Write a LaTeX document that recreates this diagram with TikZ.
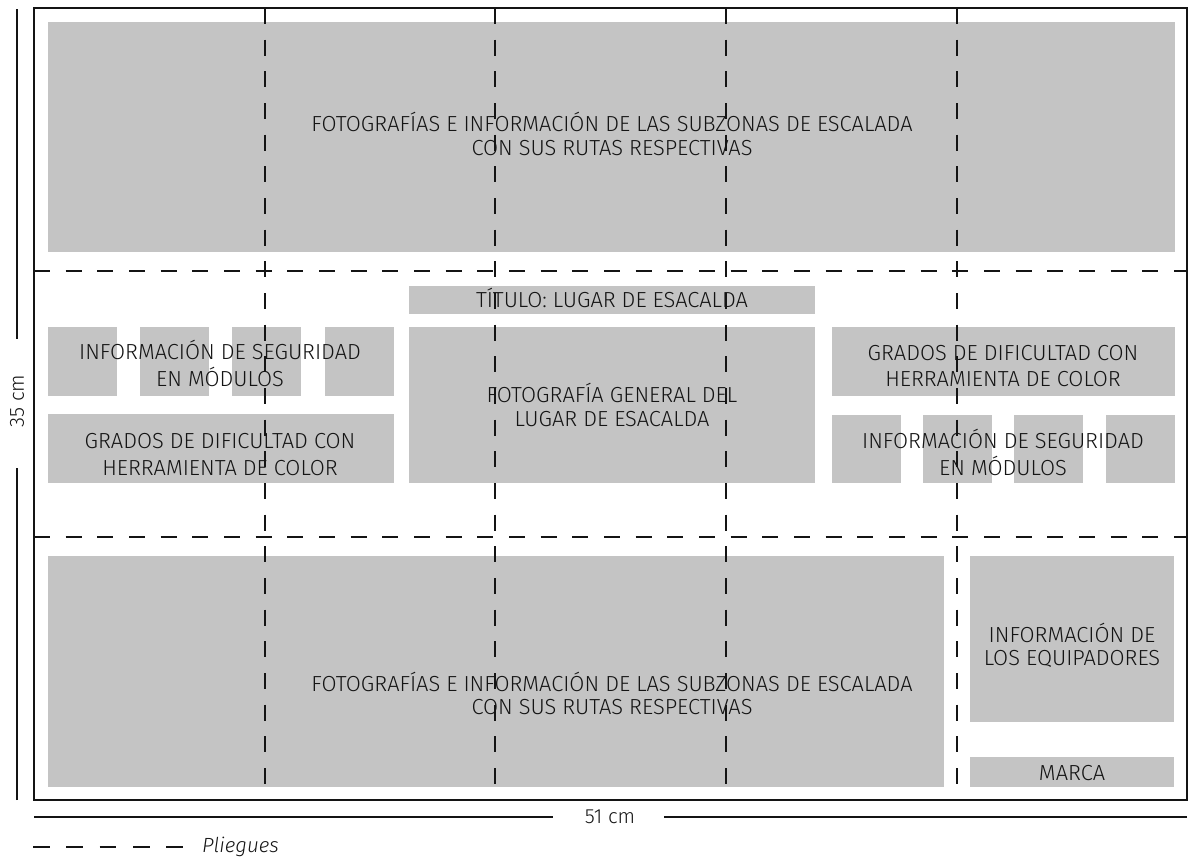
\documentclass[tikz,border=0pt]{standalone}
\usepackage{fontspec}
\setmainfont{Fira Sans Light}
\usepackage{xcolor}
\usepackage{tikz}
\usetikzlibrary{positioning}

\definecolor{zonegray}{RGB}{196,196,196}
\definecolor{inkline}{RGB}{20,20,20}

\tikzset{
  zone/.style={fill=zonegray},
  zonetext/.style={align=center, inner sep=0pt, text=inkline, font=\fontsize{18.6}{22.5}\selectfont},
  tighttext/.style={zonetext, font=\fontsize{18.6}{19.8}\selectfont},
  dimtext/.style={inner sep=0pt, text=inkline, font=\fontsize{17.5}{21}\selectfont},
  sheet/.style={draw=inkline, line width=1.7pt},
  fold/.style={draw=inkline, line width=1.6pt, dash pattern=on 0.48cm off 0.47cm},
  dimline/.style={draw=inkline, line width=1.5pt},
}

\begin{document}
\begin{tikzpicture}[x=0.03cm, y=-0.03cm]
    \useasboundingbox (0,0) rectangle (1188,860);

    % Top band
    \fill[zone] (48,22) rectangle (1175,252);
    \node[tighttext] (topPhotos) at (612,134) {FOTOGRAFÍAS E INFORMACIÓN DE LAS SUBZONAS DE ESCALADA\\CON SUS RUTAS RESPECTIVAS};

    % Middle band, left side
    \foreach \mx in {48,140,232,325} {
        \fill[zone] (\mx,327) rectangle ++(69,69);
    }
    \node[zonetext] (leftSafety) at (220,363.5) {INFORMACIÓN DE SEGURIDAD\\EN MÓDULOS};
    \fill[zone] (48,414) rectangle (394,483);
    \node[zonetext] (leftGrades) at (220,454.5) {GRADOS DE DIFICULTAD CON\\HERRAMIENTA DE COLOR};

    % Middle band, centre
    \fill[zone] (409,286) rectangle (815,314);
    \node[zonetext] (title) at (612,298) {TÍTULO: LUGAR DE ESACALDA};
    \fill[zone] (409,327) rectangle (815,483);
    \node[zonetext, font=\fontsize{18.6}{20.6}\selectfont] (mainPhoto) at (612,405) {FOTOGRAFÍA GENERAL DEL\\LUGAR DE ESACALDA};

    % Middle band, right side
    \fill[zone] (832,327) rectangle (1175,396);
    \node[zonetext] (rightGrades) at (1003,366) {GRADOS DE DIFICULTAD CON\\HERRAMIENTA DE COLOR};
    \foreach \mx in {832,923,1014,1106} {
        \fill[zone] (\mx,415) rectangle ++(69,68);
    }
    \node[zonetext] (rightSafety) at (1003,452.5) {INFORMACIÓN DE SEGURIDAD\\EN MÓDULOS};

    % Bottom band
    \fill[zone] (48,556) rectangle (944,787);
    \node[tighttext] (bottomPhotos) at (612,693.5) {FOTOGRAFÍAS E INFORMACIÓN DE LAS SUBZONAS DE ESCALADA\\CON SUS RUTAS RESPECTIVAS};
    \fill[zone] (970,556) rectangle (1174,722);
    \node[tighttext] (riggers) at (1072,645) {INFORMACIÓN DE\\LOS EQUIPADORES};
    \fill[zone] (970,757) rectangle (1174,787);
    \node[zonetext] (brand) at (1072,773.5) {MARCA};

    % Folds and sheet
    \foreach \fx in {265,495,726,957} {
        \draw[fold] (\fx,8) -- (\fx,800);
    }
    \foreach \fy in {271,537} {
        \draw[fold] (34,\fy) -- (1187,\fy);
    }
    \draw[sheet] (34,8) rectangle (1187,800);

    % Dimensions
    \node[dimtext, rotate=90] (heightLabel) at (17,401) {35 cm};
    \coordinate (heightTop) at (17,9);
    \coordinate (heightBottom) at (17,800);
    \draw[dimline, shorten >=1.05cm] (heightTop) -- (heightLabel.east);
    \draw[dimline, shorten >=1.2cm] (heightBottom) -- (heightLabel.west);

    \node[dimtext] (widthLabel) at (610,817) {51 cm};
    \coordinate (widthLeft) at (34,817);
    \coordinate (widthRight) at (1187,817);
    \draw[dimline, shorten >=0.95cm] (widthLeft) -- (widthLabel.west);
    \draw[dimline, shorten >=0.85cm] (widthRight) -- (widthLabel.east);

    % Legend
    \node[dimtext, anchor=west, font=\fontsize{17.5}{21}\selectfont\itshape] (foldKey) at (202,847) {Pliegues};
    \coordinate (foldKeyStart) at (33,847);
    \draw[fold, dash pattern=on 0.5cm off 0.5cm, shorten >=0.57cm] (foldKeyStart) -- (foldKey.west);
\end{tikzpicture}
\end{document}
